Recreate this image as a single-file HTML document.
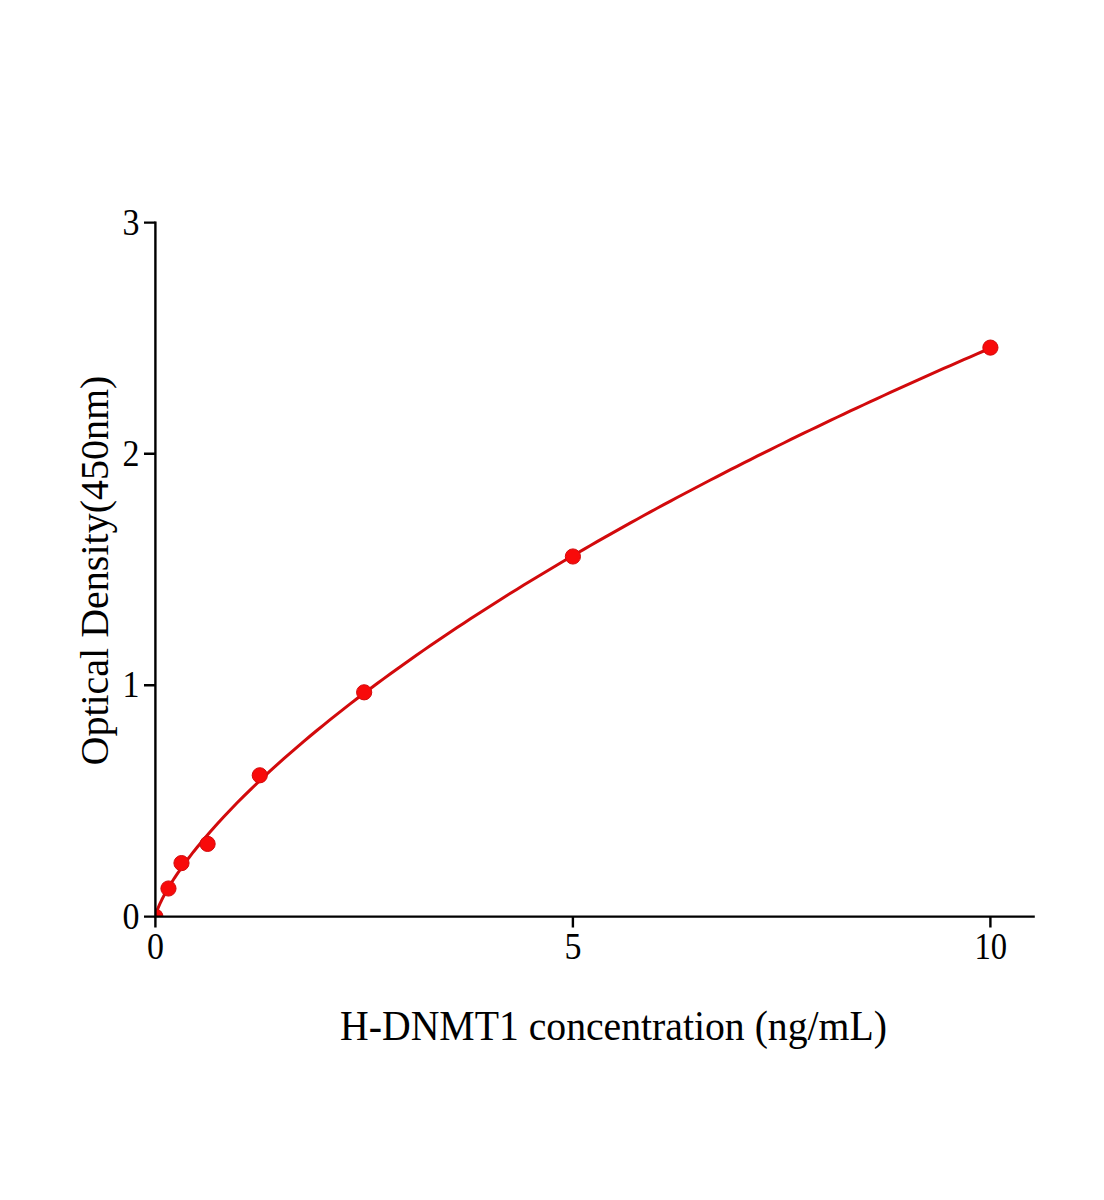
<!DOCTYPE html>
<html><head><meta charset="utf-8"><style>
html,body{margin:0;padding:0;background:#fff;}
body{width:1104px;height:1200px;overflow:hidden;position:relative;}
svg{position:absolute;left:0;top:0;}
text{font-family:"Liberation Serif",serif;fill:#000;}
</style></head><body>
<svg width="1104" height="1200" viewBox="0 0 1104 1200">
<defs><clipPath id="pa"><rect x="155.4" y="150" width="900" height="766.6"/></clipPath></defs>
<g clip-path="url(#pa)">
<path d="M155.40,916.60 L155.41,916.60 L155.45,916.60 L155.51,916.31 L155.59,915.88 L155.70,915.38 L155.83,914.83 L155.99,914.24 L156.17,913.60 L156.37,912.91 L156.60,912.19 L156.85,911.43 L157.13,910.64 L157.43,909.81 L157.75,908.95 L158.10,908.06 L158.47,907.14 L158.87,906.19 L159.29,905.21 L159.73,904.21 L160.20,903.18 L160.69,902.12 L161.20,901.04 L161.74,899.93 L162.31,898.80 L162.90,897.65 L163.51,896.47 L164.14,895.27 L164.80,894.05 L165.49,892.81 L166.19,891.55 L166.93,890.26 L167.68,888.96 L168.46,887.64 L169.26,886.29 L170.09,884.93 L170.94,883.55 L171.82,882.15 L172.72,880.74 L173.64,879.30 L174.59,877.85 L175.56,876.38 L176.56,874.90 L177.58,873.39 L178.62,871.87 L179.69,870.34 L180.78,868.79 L181.89,867.22 L183.03,865.64 L184.20,864.04 L185.38,862.43 L186.60,860.80 L187.83,859.16 L189.09,857.50 L190.37,855.83 L191.68,854.15 L193.01,852.45 L194.37,850.74 L195.75,849.01 L197.15,847.27 L203.82,839.22 L210.48,831.48 L217.15,824.00 L223.81,816.75 L230.48,809.70 L237.15,802.83 L243.81,796.13 L250.48,789.57 L257.14,783.16 L263.81,776.87 L270.48,770.70 L277.14,764.64 L283.81,758.68 L290.47,752.82 L297.14,747.05 L303.81,741.36 L310.47,735.76 L317.14,730.24 L323.80,724.79 L330.47,719.41 L337.14,714.09 L343.80,708.85 L350.47,703.66 L357.13,698.54 L363.80,693.47 L370.47,688.45 L377.13,683.50 L383.80,678.59 L390.46,673.73 L397.13,668.92 L403.79,664.16 L410.46,659.44 L417.13,654.76 L423.79,650.13 L430.46,645.54 L437.12,640.99 L443.79,636.48 L450.46,632.01 L457.12,627.57 L463.79,623.17 L470.45,618.81 L477.12,614.48 L483.79,610.19 L490.45,605.92 L497.12,601.69 L503.78,597.49 L510.45,593.32 L517.12,589.19 L523.78,585.08 L530.45,581.00 L537.11,576.94 L543.78,572.92 L550.45,568.92 L557.11,564.95 L563.78,561.01 L570.44,557.09 L577.11,553.20 L583.78,549.33 L590.44,545.48 L597.11,541.66 L603.77,537.86 L610.44,534.09 L617.11,530.34 L623.77,526.61 L630.44,522.90 L637.10,519.22 L643.77,515.55 L650.44,511.91 L657.10,508.28 L663.77,504.68 L670.43,501.10 L677.10,497.54 L683.77,493.99 L690.43,490.47 L697.10,486.96 L703.76,483.47 L710.43,480.00 L717.10,476.55 L723.76,473.12 L730.43,469.70 L737.09,466.30 L743.76,462.92 L750.43,459.56 L757.09,456.21 L763.76,452.88 L770.42,449.56 L777.09,446.26 L783.76,442.98 L790.42,439.71 L797.09,436.46 L803.75,433.22 L810.42,430.00 L817.08,426.79 L823.75,423.60 L830.42,420.42 L837.08,417.26 L843.75,414.11 L850.41,410.97 L857.08,407.85 L863.75,404.74 L870.41,401.65 L877.08,398.57 L883.74,395.50 L890.41,392.45 L897.08,389.41 L903.74,386.38 L910.41,383.36 L917.07,380.36 L923.74,377.37 L930.41,374.39 L937.07,371.42 L943.74,368.47 L950.40,365.53 L957.07,362.60 L963.74,359.68 L970.40,356.77 L977.07,353.88 L983.73,351.00 L990.40,348.12" fill="none" stroke="#D20A0C" stroke-width="3" stroke-linejoin="round"/>
<g fill="#F80A0A" stroke="#D20A0C" stroke-width="1">
<circle cx="155.40" cy="916.60" r="7.6"/>
<circle cx="168.45" cy="888.50" r="7.6"/>
<circle cx="181.49" cy="863.10" r="7.6"/>
<circle cx="207.59" cy="843.90" r="7.6"/>
<circle cx="259.77" cy="775.30" r="7.6"/>
<circle cx="364.15" cy="692.31" r="7.6"/>
<circle cx="572.90" cy="556.49" r="7.6"/>
<circle cx="990.40" cy="347.60" r="7.6"/>
</g>
</g>
<g stroke="#000" stroke-width="2.4" fill="none" stroke-linecap="butt">
<path d="M155.4 221.4 V916.6 H1034.8"/>
<path d="M144 222.6 H155.4 M144 453.8 H155.4 M144 685.2 H155.4 M144 916.6 H155.4"/>
<path d="M155.4 916.6 V927.6 M572.9 916.6 V927.6 M990.4 916.6 V927.6"/>
</g>
<g font-size="34">
<text transform="translate(139.5,235) scale(1,1.11)" text-anchor="end">3</text>
<text transform="translate(139.5,465.8) scale(1,1.11)" text-anchor="end">2</text>
<text transform="translate(139.5,697.2) scale(1,1.11)" text-anchor="end">1</text>
<text transform="translate(139.5,928.6) scale(1,1.11)" text-anchor="end">0</text>
<text transform="translate(155.4,958.8) scale(1,1.11)" text-anchor="middle">0</text>
<text transform="translate(572.9,958.8) scale(1,1.11)" text-anchor="middle">5</text>
<text transform="translate(990.8,958.8) scale(0.96,1.11)" text-anchor="middle">10</text>
</g>
<text transform="translate(340.1,1040) scale(0.9927,1.03)" font-size="40">H-DNMT1 concentration (ng/mL)</text>
<text transform="translate(107.5,765.5) rotate(-90)" font-size="40">Optical Density(450nm)</text>
</svg>
</body></html>
